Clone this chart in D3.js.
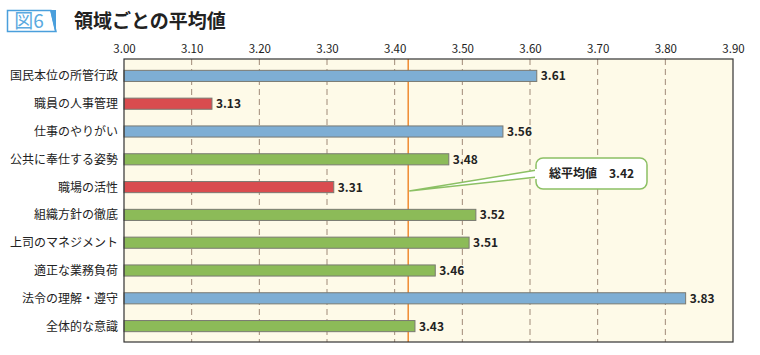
<!DOCTYPE html>
<html><head><meta charset="utf-8">
<script src="https://cdn.jsdelivr.net/npm/d3@7"></script>
<style>body{margin:0;background:#fff}svg{display:block}</style>
</head><body><svg id="c" width="760" height="355"></svg>
<script>
const categories = ["国民本位の所管行政","職員の人事管理","仕事のやりがい","公共に奉仕する姿勢","職場の活性","組織方針の徹底","上司のマネジメント","適正な業務負荷","法令の理解・遵守","全体的な意識"];
const values = [3.61,3.13,3.56,3.48,3.31,3.52,3.51,3.46,3.83,3.43];
const colorGroups = ["blue","red","blue","green","red","green","green","green","blue","green"];
const tickValues = [3.0,3.1,3.2,3.3,3.4,3.5,3.6,3.7,3.8,3.9];
const averageValue = 3.42;
const averageLabel = "総平均値　3.42";
const title = "領域ごとの平均値";
const figLabel = "図6";

const colors = {blue:"#7eaed4", red:"#d94c4f", green:"#8cbb58"};
const font = "'Noto Sans CJK JP','Noto Sans',sans-serif";
const svg = d3.select("#c");
const L=124, R=733, T=59, B=342;
const x = d3.scaleLinear().domain([3.0,3.9]).range([L,R]);
const y = d3.scaleBand().domain(categories).range([62,340]).paddingInner(0.6).paddingOuter(0.3);

// title
svg.append("path").attr("d","M7.5,10.5H51L56,31.5H7.5Z").attr("fill","#fff").attr("stroke","#4a9fdc").attr("stroke-width",1.5);
svg.append("path").attr("d","M50,10H56L56,32H55Z").attr("fill","#4a9fdc");
svg.append("text").attr("x",29).attr("y",28).attr("text-anchor","middle").attr("font-family",font).attr("font-size",19).attr("fill","#5aaae0").text(figLabel);
svg.append("text").attr("x",74).attr("y",28).attr("font-family",font).attr("font-size",19).attr("font-weight","bold").attr("fill","#222").text(title);

// plot bg
svg.append("rect").attr("x",L).attr("y",T).attr("width",R-L).attr("height",B-T).attr("fill","#fefae8");

// grid
svg.append("g").selectAll("line").data(tickValues.slice(1,-1)).join("line")
  .attr("x1",d=>x(d)).attr("x2",d=>x(d)).attr("y1",T).attr("y2",B)
  .attr("stroke","#a08a78").attr("stroke-width",1).attr("stroke-dasharray","6,4");

// top axis labels
const ax = d3.axisTop(x).tickValues(tickValues).tickFormat(d3.format(".2f")).tickSize(0).tickPadding(0);
const gA = svg.append("g").attr("transform",`translate(0,${T-6})`).call(ax);
gA.select(".domain").remove();
gA.selectAll("text").attr("font-family",font).attr("font-size",11.5).attr("fill","#222");

// average line
svg.append("line").attr("x1",x(averageValue)).attr("x2",x(averageValue)).attr("y1",T).attr("y2",B)
  .attr("stroke","#f08a30").attr("stroke-width",1.5);

// bars
svg.append("g").selectAll("rect").data(categories).join("rect")
  .attr("x",x(3.0)).attr("y",d=>y(d)).attr("width",(d,i)=>x(values[i])-x(3.0)).attr("height",y.bandwidth())
  .attr("fill",(d,i)=>colors[colorGroups[i]]).attr("stroke","#7a7a72").attr("stroke-width",1);

// value labels
svg.append("g").selectAll("text").data(categories).join("text")
  .attr("x",(d,i)=>x(values[i])+4).attr("y",d=>y(d)+y.bandwidth()/2+4.5)
  .attr("font-family",font).attr("font-size",12).attr("font-weight","bold").attr("fill","#222")
  .attr("textLength",25).attr("lengthAdjust","spacingAndGlyphs")
  .text((d,i)=>values[i].toFixed(2));

// category labels
svg.append("g").selectAll("text").data(categories).join("text")
  .attr("x",118).attr("y",d=>y(d)+y.bandwidth()/2+4.5).attr("text-anchor","end")
  .attr("font-family",font).attr("font-size",12).attr("fill","#222").text(d=>d);

// border
svg.append("rect").attr("x",L).attr("y",T).attr("width",R-L).attr("height",B-T).attr("fill","none").attr("stroke","#333").attr("stroke-width",1.2);

// callout
const ax0 = x(averageValue)+1;
const bx=536, by=158, bw=111, bh=31;
svg.append("path").attr("d",`M${bx+1},${by+12} L${ax0},${191} L${bx+1},${by+19}`)
  .attr("fill","#fff").attr("stroke","#8cc064").attr("stroke-width",1.5);
svg.append("rect").attr("x",bx).attr("y",by).attr("width",bw).attr("height",bh).attr("rx",7)
  .attr("fill","#fff").attr("stroke","#8cc064").attr("stroke-width",1.5);
svg.append("rect").attr("x",bx-1).attr("y",by+11).attr("width",4).attr("height",10).attr("fill","#fff");
svg.append("text").attr("x",bx+bw/2).attr("y",by+20).attr("text-anchor","middle")
  .attr("font-family",font).attr("font-size",12).attr("font-weight","bold").attr("fill","#222").text(averageLabel);
</script></body></html>
